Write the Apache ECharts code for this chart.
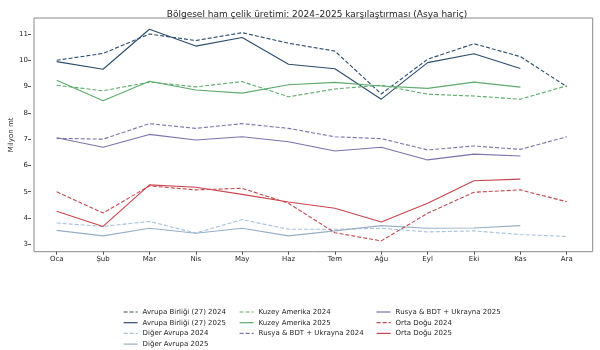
<!DOCTYPE html>
<html>
<head>
<meta charset="utf-8">
<script src="https://cdn.jsdelivr.net/npm/echarts@6/dist/echarts.min.js"></script>
<style>
  html, body { margin: 0; padding: 0; background: #fff; }
  #chart { width: 600px; height: 350px; }
</style>
</head>
<body>
<div id="chart"></div>
<script>
const months = ['Oca', 'Şub', 'Mar', 'Nis', 'May', 'Haz', 'Tem', 'Ağu', 'Eyl', 'Eki', 'Kas', 'Ara']
const yTicks = [3, 4, 5, 6, 7, 8, 9, 10, 11]

const ab2024 = [10.0, 10.26, 11.0, 10.75, 11.05, 10.65, 10.35, 8.72, 10.04, 10.63, 10.14, 9.0]
const ab2025 = [9.95, 9.66, 11.18, 10.54, 10.87, 9.85, 9.68, 8.52, 9.91, 10.25, 9.69, null]
const da2024 = [3.81, 3.68, 3.87, 3.43, 3.94, 3.57, 3.57, 3.61, 3.47, 3.51, 3.37, 3.3]
const da2025 = [3.53, 3.32, 3.61, 3.42, 3.61, 3.32, 3.51, 3.71, 3.61, 3.62, 3.71, null]
const ka2024 = [9.05, 8.84, 9.17, 8.99, 9.19, 8.61, 8.91, 9.05, 8.71, 8.64, 8.52, 9.03]
const ka2025 = [9.24, 8.46, 9.2, 8.87, 8.75, 9.07, 9.16, 9.02, 8.93, 9.17, 8.98, null]
const ru2024 = [7.03, 7.0, 7.59, 7.41, 7.59, 7.41, 7.09, 7.02, 6.59, 6.74, 6.61, 7.09]
const ru2025 = [7.05, 6.69, 7.18, 6.97, 7.09, 6.9, 6.55, 6.69, 6.21, 6.43, 6.36, null]
const od2024 = [5.0, 4.19, 5.22, 5.07, 5.13, 4.56, 3.44, 3.13, 4.18, 4.98, 5.07, 4.62]
const od2025 = [4.26, 3.68, 5.26, 5.17, 4.9, 4.61, 4.37, 3.85, 4.56, 5.42, 5.48, null]

const seriesDefs = [
  { name: 'Avrupa Birliği (27) 2024', data: ab2024, color: '#2c4d6e', dash: true },
  { name: 'Avrupa Birliği (27) 2025', data: ab2025, color: '#2c4d6e', dash: false },
  { name: 'Diğer Avrupa 2024', data: da2024, color: '#a8c3dd', dash: true },
  { name: 'Diğer Avrupa 2025', data: da2025, color: '#97b0c8', dash: false },
  { name: 'Kuzey Amerika 2024', data: ka2024, color: '#5eab6c', dash: true },
  { name: 'Kuzey Amerika 2025', data: ka2025, color: '#5eab6c', dash: false },
  { name: 'Rusya & BDT + Ukrayna 2024', data: ru2024, color: '#7c73ac', dash: true },
  { name: 'Rusya & BDT + Ukrayna 2025', data: ru2025, color: '#7c73ac', dash: false },
  { name: 'Orta Doğu 2024', data: od2024, color: '#c4494f', dash: true },
  { name: 'Orta Doğu 2025', data: od2025, color: '#c9464e', dash: false }
]

const font = 'DejaVu Sans'
const txt = '#262626'

const chart = echarts.init(document.getElementById('chart'), null, { renderer: 'canvas' })

function legendCol(left, names) {
  return {
    orient: 'vertical',
    left: left,
    top: 308,
    padding: 0,
    itemWidth: 14,
    itemHeight: 8,
    itemGap: 2.7,
    itemStyle: { opacity: 0 },
    lineStyle: { width: 1.2 },
    data: names,
    textStyle: { fontFamily: font, fontSize: 7, color: txt, lineHeight: 8, padding: [0, 0, 0, 0] }
  }
}

chart.setOption({
  backgroundColor: '#fff',
  animation: false,
  title: {
    text: 'Bölgesel ham çelik üretimi: 2024–2025 karşılaştırması (Asya hariç)',
    left: 312,
    textAlign: 'center',
    top: 5,
    textStyle: { fontFamily: font, fontSize: 9, fontWeight: 'normal', color: txt }
  },
  legend: [
    legendCol(123, seriesDefs.slice(0, 4).map((s) => s.name)),
    legendCol(239, seriesDefs.slice(4, 7).map((s) => s.name)),
    legendCol(376, seriesDefs.slice(7).map((s) => s.name))
  ],
  grid: [
    // frame
    { left: 31, right: 7.3, top: 18, bottom: 98.3, show: true, borderColor: '#8a8a8a', borderWidth: 1, backgroundColor: 'transparent' },
    // data
    { left: 56.7, right: 33.3, top: 34, bottom: 105.7 }
  ],
  xAxis: [
    { gridIndex: 0, type: 'value', show: false, min: 0, max: 1 },
    {
      gridIndex: 1,
      type: 'category',
      data: months,
      boundaryGap: false,
      offset: 7.4,
      axisLine: { show: false },
      axisTick: { show: true, length: 3, alignWithLabel: true, lineStyle: { color: '#555' } },
      axisLabel: { fontFamily: font, fontSize: 7, color: txt, margin: 4 },
      splitLine: { show: false }
    }
  ],
  yAxis: [
    {
      gridIndex: 0,
      type: 'value',
      min: 0,
      max: 1,
      name: 'Milyon mt',
      nameLocation: 'middle',
      nameGap: 19,
      nameTextStyle: { fontFamily: font, fontSize: 7, color: txt },
      axisLine: { show: false },
      axisTick: { show: false },
      axisLabel: { show: false },
      splitLine: { show: false }
    },
    {
      gridIndex: 1,
      type: 'value',
      min: yTicks[0],
      max: yTicks[yTicks.length - 1],
      interval: 1,
      offset: 25.7,
      axisLine: { show: false },
      axisTick: { show: true, length: 3, lineStyle: { color: '#555' } },
      axisLabel: { fontFamily: font, fontSize: 7, color: txt, margin: 3 },
      splitLine: { show: false }
    }
  ],
  series: seriesDefs.map((s) => ({
    name: s.name,
    type: 'line',
    xAxisIndex: 1,
    yAxisIndex: 1,
    data: s.data,
    clip: false,
    showSymbol: false,
    symbol: 'none',
    connectNulls: false,
    lineStyle: { color: s.color, width: 1.1, type: s.dash ? [4, 2] : 'solid' },
    itemStyle: { color: s.color }
  }))
})
</script>
</body>
</html>
